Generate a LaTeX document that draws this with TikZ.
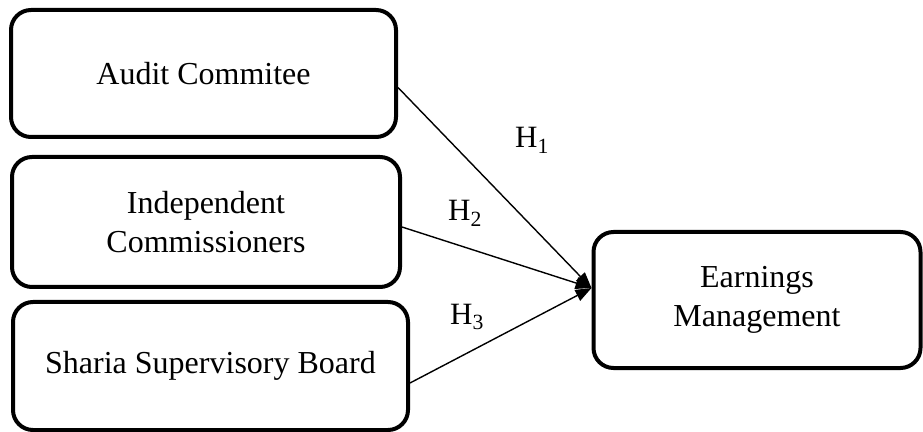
\documentclass[tikz,border=0pt]{standalone}
\usepackage{fontspec}
\setmainfont{Liberation Serif}
\usetikzlibrary{arrows.meta,positioning}
\tikzset{
  factor/.style={rectangle,rounded corners=20pt,draw,line width=4pt,align=center,
    font=\fontsize{32}{39}\selectfont,inner sep=2pt},
  hyp/.style={font=\fontsize{31}{36}\selectfont},
}

\begin{document}
\begin{tikzpicture}[x=1pt,y=1pt,>={Triangle[length=16pt,width=12pt]},line width=1.4pt]
  \useasboundingbox (0,0) rectangle (923,431);
  \node[factor,minimum width=385pt,minimum height=127pt] (AC) at (203.5,357.5) {Audit Commitee};
  \node[factor,minimum width=388pt,minimum height=130pt] (IC) at (206,209) {Independent\\Commissioners};
  \node[factor,minimum width=395pt,minimum height=128pt] (SSB) at (210.5,65) {Sharia Supervisory Board};
  \node[factor,minimum width=327pt,minimum height=136pt] (EM) at (757,131) {Earnings\\Management};
  \coordinate (meet) at ([yshift=12pt]EM.west);
  \draw[->] ([yshift=-14pt]AC.east) -- (meet);
  \draw[->] ([yshift=-5pt]IC.east) -- (meet);
  \draw[->] ([yshift=-17pt]SSB.east) -- (meet);
  \node[hyp] (H1) at (532,291) {H\textsubscript{1}};
  \node[hyp] (H2) at (465,218) {H\textsubscript{2}};
  \node[hyp] (H3) at (467,114) {H\textsubscript{3}};
\end{tikzpicture}
\end{document}
